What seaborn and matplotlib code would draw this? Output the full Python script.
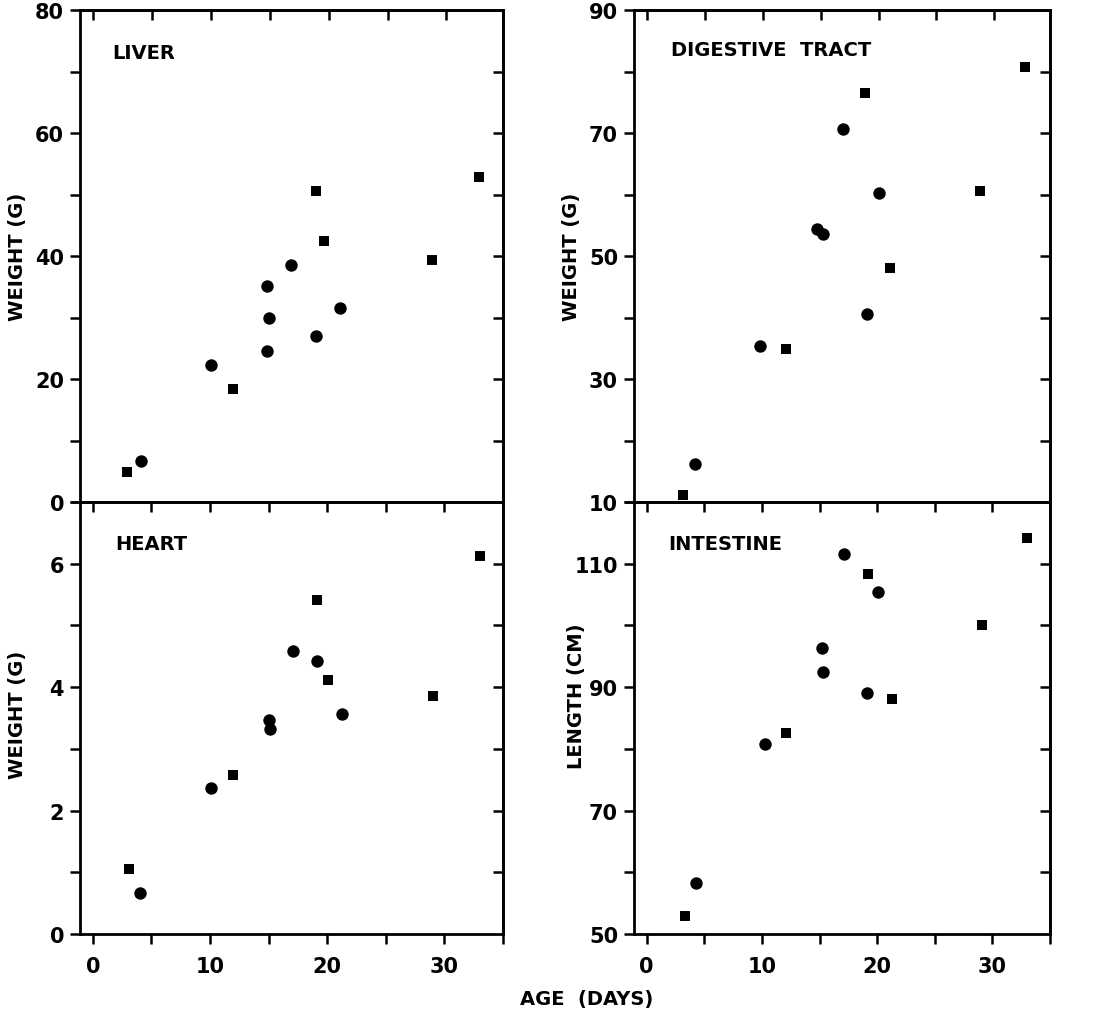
import matplotlib
matplotlib.use("Agg")
import matplotlib.pyplot as plt
import seaborn as sns

# Age (days) and value for each organ, split by marker group
liver_o_age = [4.1, 10.0, 14.8, 14.95, 14.8, 16.8, 18.9, 20.95]
liver_o_val = [6.7, 22.2, 35.2, 29.9, 24.6, 38.6, 27.0, 31.5]
liver_s_age = [2.9, 11.9, 18.9, 19.6, 28.8, 32.8]
liver_s_val = [4.9, 18.4, 50.5, 42.5, 39.3, 52.9]

digest_o_age = [4.2, 9.8, 14.7, 15.2, 16.9, 20.0, 19.0]
digest_o_val = [16.1, 35.4, 54.4, 53.5, 70.6, 60.2, 40.6]
digest_s_age = [3.1, 12.0, 18.8, 21.0, 28.8, 32.6]
digest_s_val = [11.2, 34.9, 76.5, 48.0, 60.5, 80.7]

heart_o_age = [4.05, 10.1, 15.0, 15.1, 17.1, 19.1, 21.3]
heart_o_val = [0.66, 2.36, 3.46, 3.32, 4.58, 4.42, 3.57]
heart_s_age = [3.1, 12.0, 19.1, 20.1, 29.0, 33.0]
heart_s_val = [1.05, 2.57, 5.41, 4.11, 3.86, 6.13]

intest_o_age = [4.3, 10.3, 15.2, 15.3, 17.1, 19.1, 20.1]
intest_o_val = [58.3, 80.8, 96.3, 92.4, 111.6, 89.0, 105.4]
intest_s_age = [3.3, 12.1, 19.2, 21.3, 29.1, 33.0]
intest_s_val = [52.9, 82.6, 108.4, 88.0, 100.1, 114.1]

x_labels = [0, 10, 20, 30]
x_minor = [5, 15, 25, 35]
x_top = [0, 5, 10, 15, 20, 25, 30]

sns.set_theme(style="ticks")
plt.rcParams["font.family"] = ["DejaVu Sans"]
plt.rcParams["font.weight"] = "bold"

fig = plt.figure(figsize=(10.95, 10.12), dpi=100)

L_left, L_w = 80 / 1095, 423 / 1095
R_left, R_w = 634 / 1095, 416 / 1095
T_bot, T_h = 1 - 503 / 1012, 492 / 1012
B_bot, B_h = 1 - 935 / 1012, 432 / 1012

SPINE_W = 2.0
TICK_W = 1.8
TICK_L = 7.5
FS_TICK = 15


def draw_panel(rect, o_age, o_val, s_age, s_val, ylim, ymajor, yminor,
               title, ylabel, ylab_xy, title_xy, show_xlabels):
    ax = fig.add_axes(rect)
    sns.scatterplot(x=o_age, y=o_val, marker="o", s=80, color="black",
                    linewidth=0, ax=ax)
    sns.scatterplot(x=s_age, y=s_val, marker="s", s=56, color="black",
                    linewidth=0, ax=ax)
    ax.set_xlim(-1.1, 34.8)
    ax.set_ylim(*ylim)
    for sp in ax.spines.values():
        sp.set_visible(True)
        sp.set_linewidth(SPINE_W)
        sp.set_color("black")

    ax.set_yticks(ymajor)
    ax.set_yticklabels([str(v) for v in ymajor])
    ax.set_yticks(yminor, minor=True)
    ax.tick_params(axis="y", which="both", left=True, right=False,
                   direction="out", length=TICK_L, width=TICK_W,
                   labelsize=FS_TICK, pad=4, colors="black")

    if show_xlabels:
        ax.set_xticks(x_labels)
        ax.set_xticklabels([str(v) for v in x_labels])
        ax.set_xticks(x_minor, minor=True)
        ax.tick_params(axis="x", which="both", bottom=True, top=False,
                       direction="out", length=TICK_L, width=TICK_W,
                       labelsize=FS_TICK, pad=8, colors="black")
    else:
        ax.set_xticks([])
        ax.tick_params(axis="x", bottom=False, labelbottom=False)

    # inward ticks along the top and right edges
    top = ax.secondary_xaxis("top")
    top.set_xticks(x_top)
    top.tick_params(axis="x", direction="in", length=TICK_L, width=TICK_W,
                    labeltop=False, colors="black")
    top.spines["top"].set_linewidth(SPINE_W)

    right = ax.secondary_yaxis("right")
    rticks = sorted(v for v in ymajor + yminor if ylim[0] < v < ylim[1])
    right.set_yticks(rticks)
    right.tick_params(axis="y", direction="in", length=TICK_L, width=TICK_W,
                      labelright=False, colors="black")
    right.spines["right"].set_linewidth(SPINE_W)

    ax.set_xlabel("")
    ax.set_ylabel(ylabel, fontsize=14, fontweight="bold", color="black")
    ax.yaxis.set_label_coords(*ylab_xy)
    ax.text(title_xy[0], title_xy[1], title, transform=ax.transAxes,
            ha="left", va="center", fontsize=14, fontweight="bold",
            color="black")
    return ax


draw_panel([L_left, T_bot, L_w, T_h], liver_o_age, liver_o_val,
           liver_s_age, liver_s_val, (0, 80), [0, 20, 40, 60, 80],
           [10, 30, 50, 70], "LIVER", "WEIGHT (G)", (-0.125, 0.5),
           (0.076, 0.913), False)

draw_panel([R_left, T_bot, R_w, T_h], digest_o_age, digest_o_val,
           digest_s_age, digest_s_val, (10, 90), [10, 30, 50, 70, 90],
           [20, 40, 60, 80], "DIGESTIVE  TRACT", "WEIGHT (G)",
           (-0.127, 0.5), (0.09, 0.92), False)

draw_panel([L_left, B_bot, L_w, B_h], heart_o_age, heart_o_val,
           heart_s_age, heart_s_val, (0, 7), [0, 2, 4, 6], [1, 3, 5, 7],
           "HEART", "WEIGHT (G)", (-0.125, 0.509), (0.083, 0.903), True)

draw_panel([R_left, B_bot, R_w, B_h], intest_o_age, intest_o_val,
           intest_s_age, intest_s_val, (50, 120), [50, 70, 90, 110],
           [60, 80, 100, 120], "INTESTINE", "LENGTH (CM)", (-0.115, 0.552),
           (0.082, 0.904), True)

fig.text(0.536, 0.012, "AGE  (DAYS)", ha="center", va="center",
         fontsize=14, fontweight="bold", color="black")

fig.savefig("out.png", dpi=100, facecolor="white")
